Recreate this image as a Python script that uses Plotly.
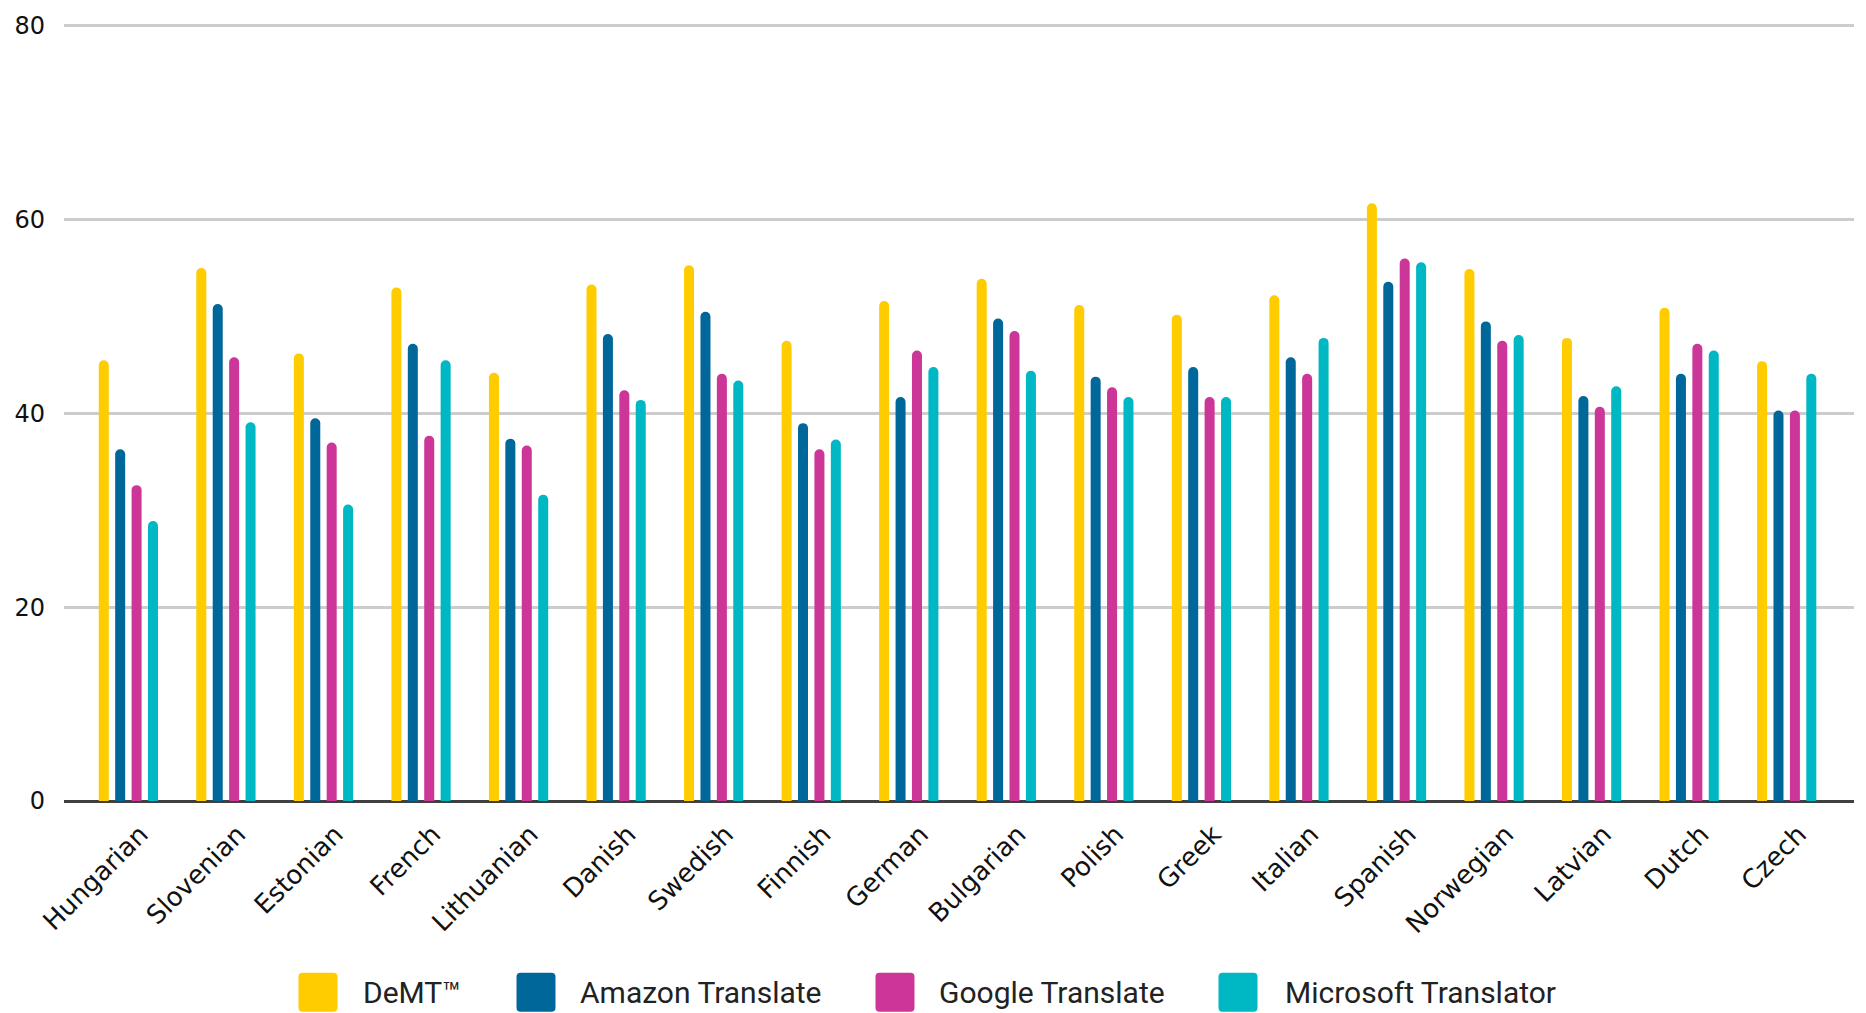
import plotly.graph_objects as go

languages = ["Hungarian", "Slovenian", "Estonian", "French", "Lithuanian", "Danish",
             "Swedish", "Finnish", "German", "Bulgarian", "Polish", "Greek",
             "Italian", "Spanish", "Norwegian", "Latvian", "Dutch", "Czech"]

demt = [45.5, 55.0, 46.2, 53.0, 44.2, 53.3, 55.3, 47.5, 51.6, 53.9, 51.2, 50.2, 52.2, 61.7, 54.9, 47.8, 50.9, 45.4]
amazon = [36.3, 51.3, 39.5, 47.2, 37.4, 48.2, 50.5, 39.0, 41.7, 49.8, 43.8, 44.8, 45.8, 53.6, 49.5, 41.8, 44.1, 40.3]
google = [32.6, 45.8, 37.0, 37.7, 36.7, 42.4, 44.1, 36.3, 46.5, 48.5, 42.7, 41.7, 44.1, 56.0, 47.5, 40.7, 47.2, 40.3]
microsoft = [28.9, 39.1, 30.6, 45.5, 31.6, 41.4, 43.4, 37.3, 44.8, 44.4, 41.7, 41.7, 47.8, 55.6, 48.1, 42.8, 46.5, 44.1]

series_names = ["DeMT™", "Amazon Translate", "Google Translate", "Microsoft Translator"]
series_values = [demt, amazon, google, microsoft]
series_colors = ["#FFCC00", "#00679A", "#CC3698", "#00B8C4"]

y_ticks = [0, 20, 40, 60, 80]

W, H = 1866, 1013
ML, MR, MT, MB = 64, 12, 20, 212
PW = W - ML - MR
PH = H - MT - MB

fig = go.Figure()
for name, vals, col in zip(series_names, series_values, series_colors):
    fig.add_trace(go.Bar(x=languages, y=vals, name=name, marker_color=col,
                         marker_line_width=0, showlegend=False))

# custom legend (large rounded swatches)
legend_icon_px = [318, 536, 895, 1238]
legend_text_px = [361, 578, 937, 1283]
icon_cy = 993
half = 19.5
r = 4


def rounded_path(h, rad):
    return (f"M {-h+rad},{-h} L {h-rad},{-h} Q {h},{-h} {h},{-h+rad} "
            f"L {h},{h-rad} Q {h},{h} {h-rad},{h} L {-h+rad},{h} "
            f"Q {-h},{h} {-h},{h-rad} L {-h},{-h+rad} Q {-h},{-h} {-h+rad},{-h} Z")


for name, col, ix, tx in zip(series_names, series_colors, legend_icon_px, legend_text_px):
    fig.add_shape(type="path", xref="paper", yref="paper",
                  xsizemode="pixel", ysizemode="pixel",
                  xanchor=(ix - ML) / PW, yanchor=(MT + PH - icon_cy) / PH,
                  path=rounded_path(half, r), fillcolor=col, line_width=0)
    fig.add_annotation(text=name, xref="paper", yref="paper",
                       x=(tx - ML) / PW, y=(MT + PH - icon_cy) / PH,
                       xanchor="left", yanchor="middle", showarrow=False,
                       font=dict(family="Roboto", size=30, color="#222222"))

fig.update_layout(
    width=W, height=H,
    margin=dict(l=ML, r=MR, t=MT, b=MB, pad=0),
    paper_bgcolor="white", plot_bgcolor="white",
    barmode="group", bargap=0.327, bargroupgap=0.39,
    barcornerradius=5,
    font=dict(family="DejaVu Sans", color="#111111"),
    xaxis=dict(range=[-0.66, 17.69], tickangle=-45, showgrid=False,
               showline=False, ticks="", zeroline=False,
               ticklabelstandoff=12, ticklabelshift=12,
               tickfont=dict(family="DejaVu Sans", size=26, color="#111111")),
    yaxis=dict(range=[0, 80.3], tickvals=y_ticks, showgrid=True,
               gridcolor="#CCCCCC", gridwidth=2.5, zeroline=True,
               zerolinecolor="#404040", zerolinewidth=3, showline=False,
               ticks="", tickfont=dict(family="DejaVu Sans", size=24, color="#111111"),
               ticklabelstandoff=18),
)

fig.write_html("out.html")
